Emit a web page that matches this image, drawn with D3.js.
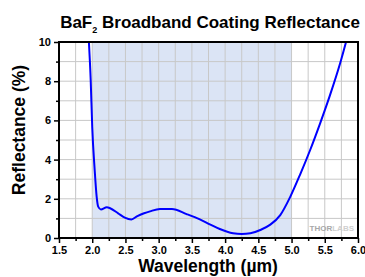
<!DOCTYPE html>
<html>
<head>
<meta charset="utf-8">
<script src="https://cdn.jsdelivr.net/npm/d3@7"></script>
<style>
  body { margin: 0; background: #fff; }
  text { font-family: "Liberation Sans", Arial, sans-serif; }
</style>
</head>
<body>
<svg id="chart"></svg>
<script>
// wavelength (µm) and reflectance (%)
const wavelength = [1.95, 1.977, 2.0, 2.037, 2.067, 2.09, 2.13, 2.22, 2.27, 2.39, 2.49, 2.59, 2.68, 2.78, 2.87, 3.02, 3.2, 3.42, 3.62, 3.77, 3.92, 4.12, 4.25, 4.38, 4.53, 4.68, 4.83, 4.98, 5.13, 5.28, 5.43, 5.58, 5.73, 5.82];
const reflectance = [10, 8.06, 5.68, 3.47, 2.1, 1.6, 1.46, 1.57, 1.52, 1.26, 1.04, 0.95, 1.12, 1.26, 1.36, 1.48, 1.48, 1.22, 0.95, 0.7, 0.46, 0.24, 0.2, 0.24, 0.41, 0.68, 1.17, 2.1, 3.25, 4.49, 5.85, 7.3, 8.9, 10];
const coatingRange = [2.0, 5.0];
const xTicks = [1.5, 2.0, 2.5, 3.0, 3.5, 4.0, 4.5, 5.0, 5.5, 6.0];
const yTicks = [0, 2, 4, 6, 8, 10];

const width = 365, height = 277;
const margin = {top: 42, right: 7, bottom: 39, left: 59};
const w = width - margin.left - margin.right;
const h = height - margin.top - margin.bottom;

const svg = d3.select('#chart').attr('width', width).attr('height', height);
const chart = svg.append('g').attr('transform', `translate(${margin.left},${margin.top})`);

const x = d3.scaleLinear().domain([1.5, 6.0]).range([0, w]);
const y = d3.scaleLinear().domain([0, 10]).range([h, 0]);

// shaded coating band
chart.append('rect')
  .attr('x', x(coatingRange[0]))
  .attr('y', 0)
  .attr('width', x(coatingRange[1]) - x(coatingRange[0]))
  .attr('height', h)
  .attr('fill', '#dbe4f5');

// grid
const gx = d3.range(1.5, 6.001, 0.25);
const gy = d3.range(0, 10.001, 1);
chart.selectAll('.gx').data(gx).enter().append('line')
  .attr('x1', d => x(d)).attr('x2', d => x(d))
  .attr('y1', 0).attr('y2', h)
  .attr('stroke', '#c8c8c8').attr('stroke-width', 1);
chart.selectAll('.gy').data(gy).enter().append('line')
  .attr('y1', d => y(d)).attr('y2', d => y(d))
  .attr('x1', 0).attr('x2', w)
  .attr('stroke', '#c8c8c8').attr('stroke-width', 1);

// watermark
const wm = chart.append('text')
  .attr('x', w - 4).attr('y', h - 7)
  .attr('text-anchor', 'end')
  .style('font-size', '8px').style('font-weight', 'bold');
wm.append('tspan').attr('fill', '#a8a8a8').text('THOR');
wm.append('tspan').attr('fill', '#cfcfcf').text('LABS');

// curve
const pts = wavelength.map((d, i) => [d, reflectance[i]]);
chart.append('path')
  .datum(pts)
  .attr('fill', 'none')
  .attr('stroke', '#0000ff')
  .attr('stroke-width', 2)
  .attr('d', d3.line().x(d => x(d[0])).y(d => y(d[1])).curve(d3.curveMonotoneX));

// axes
chart.append('g').attr('transform', `translate(0,${h})`)
  .call(d3.axisBottom(x).tickValues(xTicks).tickFormat(d3.format('.1f')).tickSize(5).tickPadding(3));
chart.append('g').attr('transform', `translate(0,${h})`)
  .call(d3.axisBottom(x).tickValues(d3.range(1.75, 6, 0.5)).tickFormat('').tickSize(3));
chart.append('g')
  .call(d3.axisLeft(y).tickValues(yTicks).tickSize(5).tickPadding(3));
chart.append('g')
  .call(d3.axisLeft(y).tickValues([1, 3, 5, 7, 9]).tickFormat('').tickSize(3));

chart.selectAll('.tick line').attr('stroke', '#000').attr('stroke-width', 1.5);
chart.selectAll('.domain').remove();
chart.selectAll('.tick text')
  .style('font-size', '11px').style('font-weight', 'bold')
  .style('font-family', '"Liberation Sans", Arial, sans-serif')
  .attr('fill', '#000');

// frame
chart.append('rect')
  .attr('x', 0).attr('y', 0).attr('width', w).attr('height', h)
  .attr('fill', 'none').attr('stroke', '#000').attr('stroke-width', 2);

// title
const title = svg.append('text')
  .attr('x', 210).attr('y', 28)
  .attr('text-anchor', 'middle')
  .style('font-size', '17px').style('font-weight', 'bold');
title.append('tspan').text('BaF');
title.append('tspan').attr('dy', 5).style('font-size', '9px').text('2');
title.append('tspan').attr('dy', -5).text(' Broadband Coating Reflectance');

// axis titles
svg.append('text')
  .attr('x', 208).attr('y', 272)
  .attr('text-anchor', 'middle')
  .style('font-size', '17.5px').style('font-weight', 'bold')
  .text('Wavelength (µm)');
svg.append('text')
  .attr('transform', `translate(25,130) rotate(-90)`)
  .attr('text-anchor', 'middle')
  .style('font-size', '17.5px').style('font-weight', 'bold')
  .text('Reflectance (%)');
</script>
</body>
</html>
